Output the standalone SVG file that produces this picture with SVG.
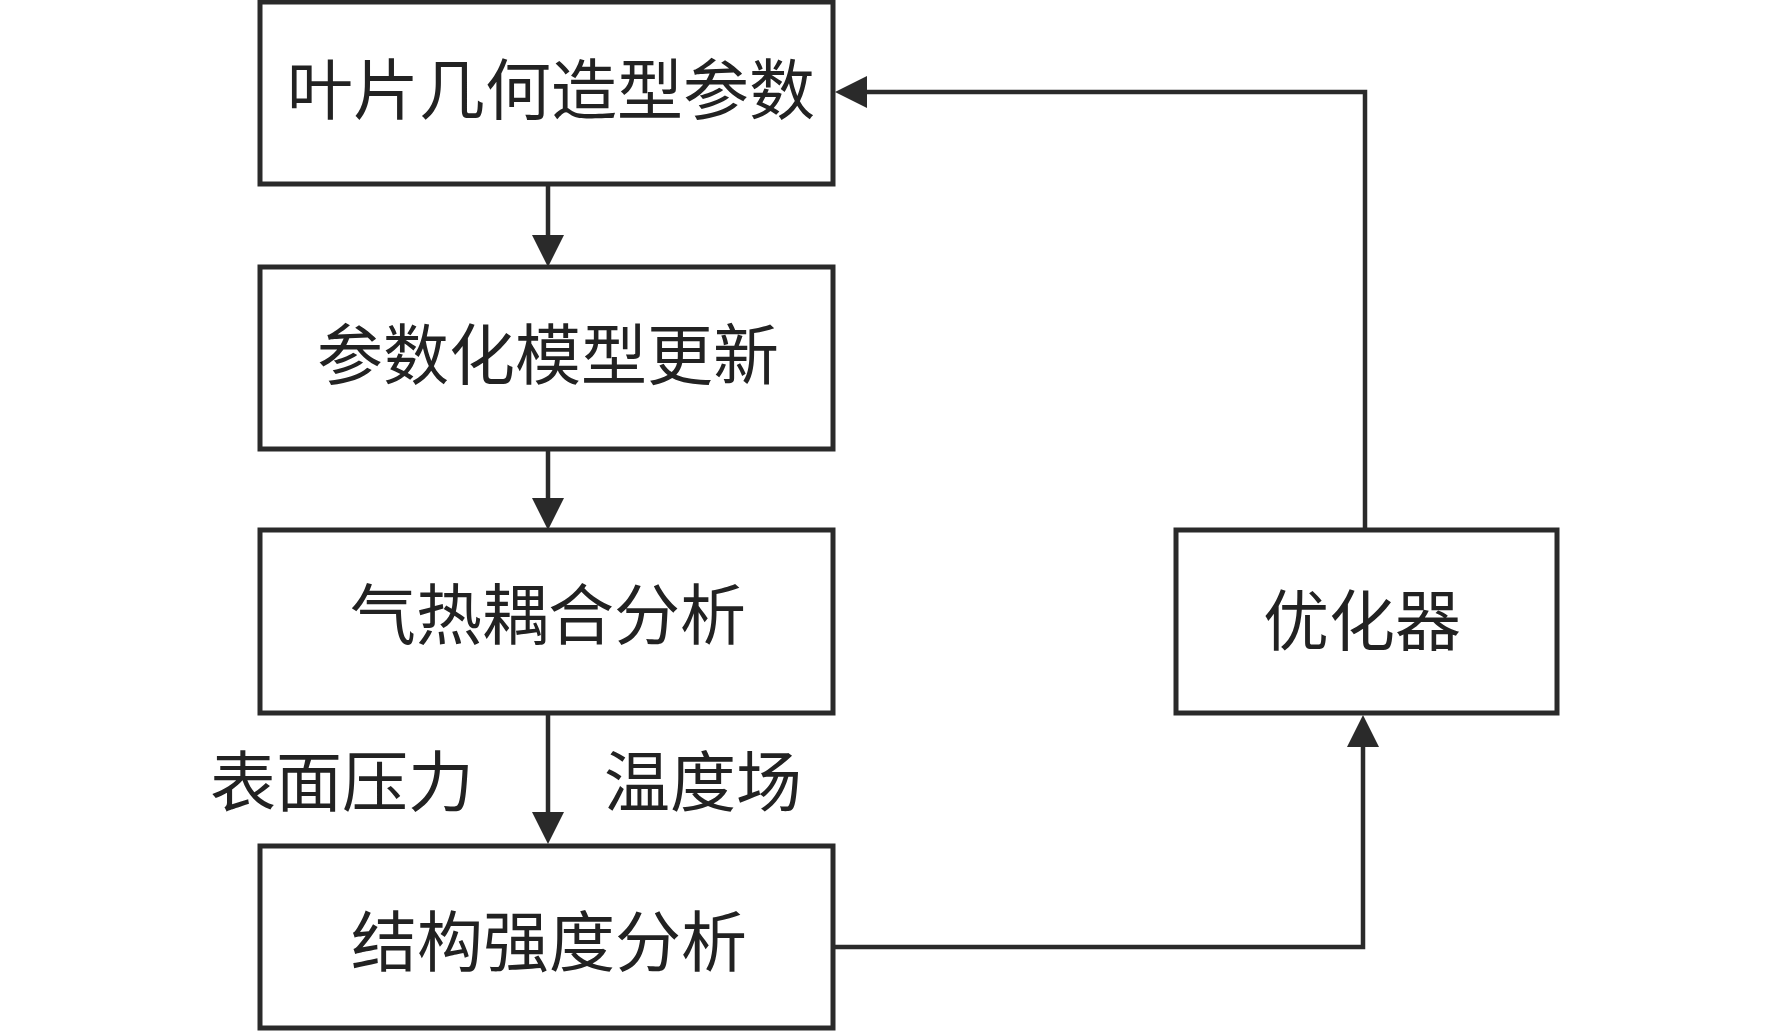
<svg xmlns="http://www.w3.org/2000/svg" width="1772" height="1032" viewBox="0 0 1772 1032">
<style>
.box{fill:#fff;stroke:#2a2a2a;stroke-width:5}
.t{font-family:"Noto Sans CJK SC","Noto Sans",sans-serif;font-size:66px;fill:#222;text-anchor:middle}
.c{fill:none;stroke:#2a2a2a;stroke-width:4.5}
.ah{fill:#2a2a2a}
</style>
<rect width="1772" height="1032" fill="#fff"/>
<g id="connectors">
<line class="c" x1="548" y1="184" x2="548" y2="240"/>
<polygon class="ah" points="532,235 564,235 548,267"/>
<line class="c" x1="548" y1="449" x2="548" y2="503"/>
<polygon class="ah" points="532,498 564,498 548,530"/>
<line class="c" x1="548" y1="713" x2="548" y2="818"/>
<polygon class="ah" points="532,812 564,812 548,844"/>
<polyline class="c" points="835,947 1363,947 1363,740"/>
<polygon class="ah" points="1347,747 1379,747 1363,715"/>
<polyline class="c" points="1365,530 1365,92 862,92"/>
<polygon class="ah" points="867,76 867,108 835,92"/>
</g>
<g id="n1"><rect class="box" x="260" y="2" width="573" height="182"/><text class="t" x="551" y="114">叶片几何造型参数</text></g>
<g id="n2"><rect class="box" x="260" y="267" width="573" height="182"/><text class="t" x="548" y="379">参数化模型更新</text></g>
<g id="n3"><rect class="box" x="260" y="530" width="573" height="183"/><text class="t" x="548" y="639">气热耦合分析</text></g>
<g id="n4"><rect class="box" x="260" y="846" width="573" height="182"/><text class="t" x="549" y="966">结构强度分析</text></g>
<g id="n5"><rect class="box" x="1176" y="530" width="381" height="183"/><text class="t" x="1362" y="645">优化器</text></g>
<g id="labels">
<text class="t" x="342" y="806">表面压力</text>
<text class="t" x="703" y="806">温度场</text>
</g>
</svg>
